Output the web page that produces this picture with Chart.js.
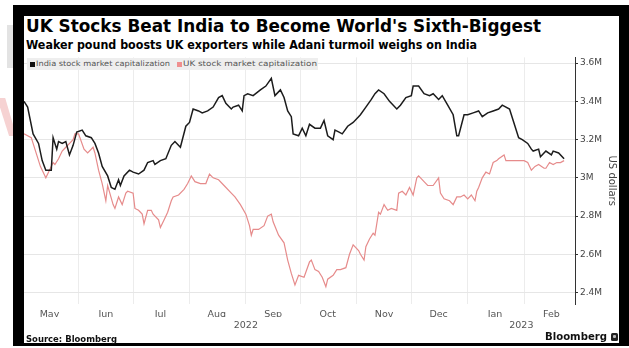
<!DOCTYPE html>
<html>
<head>
<meta charset="utf-8">
<script src="https://cdn.jsdelivr.net/npm/chart.js@4.4.1/dist/chart.umd.min.js"></script>
<style>
  html, body { margin: 0; padding: 0; background: #fff; }
  body { width: 629px; height: 348px; position: relative; overflow: hidden; font-family: 'DejaVu Sans', sans-serif; }
  .abs { position: absolute; white-space: nowrap; }
  #frame { left: 13px; top: 5px; width: 616px; height: 341px; background: #000; }
  #panel { left: 24px; top: 16px; width: 595px; height: 327px; background: #fff; }
  #ghost { left: 7px; top: 25px; width: 6px; height: 43px; background: #e3e3e3; }
  #ghostRed { left: 0px; top: 98px; width: 13px; height: 38px; background: #f6d2d2;
              clip-path: polygon(0 0, 40% 0, 100% 70%, 100% 100%, 70% 100%, 0 25%); }
  #title { left: 26px; top: 15px; font-weight: bold; font-size: 18px; line-height: 22px; color: #000; transform-origin: 0 0; }
  #subtitle { left: 26px; top: 37px; font-weight: bold; font-size: 13px; line-height: 16px; color: #000; transform-origin: 0 0; }
  #legend { left: 27px; top: 58px; width: 291px; height: 12px; background: #eeeeee; }
  .sw { position: absolute; top: 4px; width: 5px; height: 5px; }
  .lt { position: absolute; top: 1px; font-size: 7.5px; line-height: 10px; color: #555; transform-origin: 0 0; }
  #source { left: 26px; top: 334px; font-weight: bold; font-size: 8.5px; line-height: 11px; color: #111; transform-origin: 0 0; }
  #brand { left: 545px; top: 330px; font-weight: bold; font-size: 11px; line-height: 14px; color: #111; transform-origin: 0 0; }
  #logo { left: 611px; top: 333px; width: 7px; height: 8px; background: #222; border-radius: 1.5px; }
  #logo::after { content: ''; position: absolute; left: 2px; top: 2px; width: 3px; height: 3px; background: #bbb; border-radius: 1px; }
  #c { left: 24px; top: 50px; }
</style>
</head>
<body>
<div id="ghost" class="abs"></div>
<div id="ghostRed" class="abs"></div>
<div id="frame" class="abs"></div>
<div id="panel" class="abs"></div>
<div id="title" class="abs">UK Stocks Beat India to Become World's Sixth-Biggest</div>
<div id="subtitle" class="abs">Weaker pound boosts UK exporters while Adani turmoil weighs on India</div>
<canvas id="c" class="abs" width="595" height="293"></canvas>
<div id="legend" class="abs">
  <div class="sw" style="left:3px;background:#111"></div>
  <div id="lt1" class="lt" style="left:9px">India stock market capitalization</div>
  <div class="sw" style="left:150px;background:#ef8f8f"></div>
  <div id="lt2" class="lt" style="left:156px">UK stock market capitalization</div>
</div>
<div id="source" class="abs">Source: Bloomberg</div>
<div id="brand" class="abs">Bloomberg</div>
<div id="logo" class="abs"></div>

<script>
// India total market capitalization (US$, shown with an "M" suffix)
const indiaDates = [
  '2022-05-02','2022-05-04','2022-05-07','2022-05-10','2022-05-12','2022-05-14','2022-05-17','2022-05-18',
  '2022-05-20','2022-05-21','2022-05-23','2022-05-25','2022-05-27','2022-05-29','2022-05-31','2022-06-03',
  '2022-06-05','2022-06-08','2022-06-10','2022-06-12','2022-06-14','2022-06-17','2022-06-19','2022-06-21',
  '2022-06-23','2022-06-24','2022-06-26','2022-06-29','2022-07-01','2022-07-04','2022-07-07','2022-07-09',
  '2022-07-12','2022-07-13','2022-07-16','2022-07-19','2022-07-22','2022-07-24','2022-07-27','2022-07-30',
  '2022-08-01','2022-08-03','2022-08-06','2022-08-08','2022-08-11','2022-08-14','2022-08-17','2022-08-19',
  '2022-08-21','2022-08-24','2022-08-25','2022-08-28','2022-08-30','2022-08-31','2022-09-02','2022-09-05',
  '2022-09-09','2022-09-12','2022-09-15','2022-09-17','2022-09-20','2022-09-22','2022-09-24','2022-09-26',
  '2022-09-27','2022-09-30','2022-10-02','2022-10-04','2022-10-06','2022-10-09','2022-10-12','2022-10-14',
  '2022-10-16','2022-10-19','2022-10-20','2022-10-22','2022-10-24','2022-10-27','2022-10-30','2022-11-02',
  '2022-11-03','2022-11-06','2022-11-09','2022-11-11','2022-11-13','2022-11-16','2022-11-19','2022-11-23',
  '2022-11-25','2022-11-28','2022-12-01','2022-12-02','2022-12-05','2022-12-08','2022-12-11','2022-12-13',
  '2022-12-16','2022-12-18','2022-12-21','2022-12-24','2022-12-26','2022-12-27','2022-12-30','2023-01-01',
  '2023-01-04','2023-01-07','2023-01-09','2023-01-12','2023-01-15','2023-01-18','2023-01-20','2023-01-24',
  '2023-01-26','2023-01-29','2023-01-31','2023-02-03','2023-02-05','2023-02-06','2023-02-09','2023-02-10',
  '2023-02-13','2023-02-16','2023-02-17','2023-02-20','2023-02-23'
];
const indiaValues = [
  3.40,3.37,3.23,3.18,3.09,3.04,3.04,3.21,
  3.15,3.19,3.18,3.19,3.12,3.17,3.24,3.25,
  3.22,3.21,3.18,3.13,3.06,3.01,2.95,2.94,
  2.99,2.96,3.01,3.04,3.03,3.02,3.04,3.08,
  3.09,3.07,3.09,3.10,3.17,3.19,3.16,3.27,
  3.29,3.36,3.35,3.34,3.35,3.37,3.42,3.43,
  3.39,3.36,3.37,3.38,3.35,3.43,3.44,3.43,
  3.46,3.48,3.52,3.43,3.46,3.42,3.35,3.32,
  3.23,3.22,3.26,3.22,3.28,3.26,3.26,3.30,
  3.22,3.20,3.25,3.24,3.23,3.27,3.29,3.32,
  3.33,3.37,3.41,3.44,3.46,3.44,3.40,3.36,
  3.38,3.42,3.43,3.48,3.48,3.44,3.43,3.44,
  3.41,3.43,3.38,3.33,3.22,3.22,3.33,3.33,
  3.34,3.35,3.32,3.34,3.35,3.36,3.38,3.36,
  3.30,3.21,3.20,3.18,3.15,3.14,3.15,3.11,
  3.14,3.12,3.14,3.13,3.10
];

// UK total market capitalization
const ukDates = [
  '2022-05-02','2022-05-06','2022-05-07','2022-05-09','2022-05-11','2022-05-13','2022-05-14','2022-05-16',
  '2022-05-18','2022-05-19','2022-05-21','2022-05-23','2022-05-25','2022-05-26','2022-05-29','2022-05-30',
  '2022-06-01','2022-06-04','2022-06-06','2022-06-09','2022-06-10','2022-06-12','2022-06-14','2022-06-16',
  '2022-06-17','2022-06-20','2022-06-21','2022-06-23','2022-06-25','2022-06-27','2022-06-28','2022-07-01',
  '2022-07-02','2022-07-04','2022-07-06','2022-07-07','2022-07-09','2022-07-11','2022-07-12','2022-07-15',
  '2022-07-16','2022-07-18','2022-07-20','2022-07-22','2022-07-23','2022-07-26','2022-07-29','2022-07-31',
  '2022-08-02','2022-08-04','2022-08-07','2022-08-10','2022-08-12','2022-08-14','2022-08-17','2022-08-20',
  '2022-08-24','2022-08-26','2022-08-29','2022-09-01','2022-09-03','2022-09-04','2022-09-05','2022-09-08',
  '2022-09-11','2022-09-13','2022-09-15','2022-09-16','2022-09-19','2022-09-22','2022-09-24','2022-09-26',
  '2022-09-28','2022-09-30','2022-10-03','2022-10-06','2022-10-07','2022-10-09','2022-10-11','2022-10-13',
  '2022-10-15','2022-10-16','2022-10-19','2022-10-21','2022-10-23','2022-10-26','2022-10-28','2022-10-30',
  '2022-11-02','2022-11-03','2022-11-05','2022-11-06','2022-11-08','2022-11-10','2022-11-11','2022-11-13',
  '2022-11-14','2022-11-16','2022-11-18','2022-11-20','2022-11-23','2022-11-24','2022-11-26','2022-11-28',
  '2022-11-30','2022-12-02','2022-12-04','2022-12-05','2022-12-08','2022-12-10','2022-12-13','2022-12-16',
  '2022-12-17','2022-12-19','2022-12-22','2022-12-24','2022-12-26','2022-12-28','2022-12-30','2023-01-01',
  '2023-01-03','2023-01-05','2023-01-06','2023-01-07','2023-01-09','2023-01-11','2023-01-13','2023-01-15',
  '2023-01-17','2023-01-18','2023-01-21','2023-01-22','2023-01-24','2023-01-27','2023-01-29','2023-02-01',
  '2023-02-03','2023-02-05','2023-02-07','2023-02-09','2023-02-12','2023-02-13','2023-02-15','2023-02-17',
  '2023-02-19','2023-02-21','2023-02-23'
];
const ukValues = [
  3.23,3.21,3.18,3.12,3.06,3.02,3.00,3.04,
  3.08,3.07,3.10,3.14,3.16,3.17,3.20,3.23,
  3.23,3.15,3.13,3.16,3.13,3.04,2.97,2.88,
  2.96,2.86,2.84,2.90,2.86,2.92,2.93,2.92,
  2.84,2.83,2.81,2.76,2.83,2.83,2.81,2.78,
  2.74,2.78,2.82,2.88,2.90,2.91,2.94,2.97,
  3.01,2.98,2.97,2.97,3.02,3.00,2.99,2.96,
  2.92,2.90,2.86,2.81,2.75,2.70,2.73,2.73,
  2.75,2.80,2.81,2.77,2.70,2.66,2.57,2.50,
  2.44,2.49,2.48,2.56,2.57,2.52,2.51,2.48,
  2.43,2.47,2.49,2.52,2.52,2.53,2.60,2.65,
  2.62,2.60,2.57,2.64,2.68,2.71,2.70,2.82,
  2.81,2.86,2.83,2.84,2.83,2.92,2.93,2.91,
  2.95,2.91,3.00,3.01,2.98,2.96,2.96,3.00,
  2.92,2.89,2.88,2.86,2.90,2.90,2.91,2.89,
  2.91,2.88,2.93,2.95,3.00,3.03,3.02,3.08,
  3.09,3.10,3.12,3.09,3.09,3.09,3.09,3.09,
  3.08,3.04,3.06,3.07,3.05,3.05,3.08,3.07,
  3.08,3.08,3.09
];

// Axis labels
const monthLabels = ['May','Jun','Jul','Aug','Sep','Oct','Nov','Dec','Jan','Feb'];
const monthMids   = ['2022-05-16','2022-06-16','2022-07-16','2022-08-16','2022-09-16','2022-10-16',
                     '2022-11-16','2022-12-16','2023-01-16','2023-02-16'];
const monthStarts = ['2022-06-01','2022-07-01','2022-08-01','2022-09-01','2022-10-01','2022-11-01',
                     '2022-12-01','2023-01-01','2023-02-01'];
const yearLabels  = ['2022','2023'];
const yearStarts  = ['2022-05-02','2023-01-01'];
const rangeStart  = '2022-05-02';
const rangeEnd    = '2023-03-01';
const yTicks      = [2.4, 2.6, 2.8, 3.0, 3.2, 3.4, 3.6];

// Day number relative to 1 May 2022
const EPOCH = Date.UTC(2022, 4, 1);
function dayNum(s) {
  const [y, m, d] = s.split('-').map(Number);
  return (Date.UTC(y, m - 1, d) - EPOCH) / 86400000;
}
const toPoints = (dates, vals) => dates.map((d, i) => ({ x: dayNum(d), y: vals[i] }));

const xMin = dayNum(rangeStart);
const xMax = dayNum(rangeEnd);
// each year label sits in the middle of the part of that year that is shown
const yearCenters = yearStarts.map((s, i) => {
  const a = Math.max(dayNum(s), xMin);
  const b = i + 1 < yearStarts.length ? dayNum(yearStarts[i + 1]) : xMax;
  return (a + b) / 2;
});

const tickFont = { family: "'DejaVu Sans', sans-serif", size: 9 };

new Chart(document.getElementById('c'), {
  type: 'line',
  data: {
    datasets: [
      { label: 'India stock market capitalization', data: toPoints(indiaDates, indiaValues),
        borderColor: '#1c1c1c', borderWidth: 1.5, pointRadius: 0, tension: 0, xAxisID: 'x', yAxisID: 'y' },
      { label: 'UK stock market capitalization', data: toPoints(ukDates, ukValues),
        borderColor: '#e68b8b', borderWidth: 1.2, pointRadius: 0, tension: 0, xAxisID: 'x', yAxisID: 'y' }
    ]
  },
  options: {
    responsive: false,
    animation: false,
    devicePixelRatio: 1,
    layout: { padding: { top: 5, left: 0, right: 0, bottom: 0 } },
    plugins: { legend: { display: false }, tooltip: { enabled: false } },
    scales: {
      x: {
        type: 'linear', position: 'bottom', min: xMin, max: xMax, weight: 0,
        afterBuildTicks: s => { s.ticks = monthStarts.map(d => ({ value: dayNum(d) })); },
        afterFit: s => { s.height = 0; },
        ticks: { display: false },
        grid: { color: '#ececec', lineWidth: 1, drawTicks: false },
        border: { display: false }
      },
      xm: {
        type: 'linear', position: 'bottom', min: xMin, max: xMax, weight: 1,
        afterBuildTicks: s => { s.ticks = monthMids.map(d => ({ value: dayNum(d) })); },
        afterFit: s => { s.height = 13; },
        ticks: { callback: (v, i) => monthLabels[i], autoSkip: false, maxRotation: 0,
                 font: { ...tickFont, size: 9.5 }, color: '#555', padding: 5 },
        grid: { display: false, drawTicks: false },
        border: { display: false }
      },
      xy: {
        type: 'linear', position: 'bottom', min: xMin, max: xMax, weight: 2,
        afterBuildTicks: s => { s.ticks = yearCenters.map(v => ({ value: v })); },
        afterFit: s => { s.height = 26; },
        ticks: { callback: (v, i) => yearLabels[i], autoSkip: false, maxRotation: 0,
                 font: { ...tickFont, size: 9.5 }, color: '#555', padding: 3 },
        grid: { display: false, drawTicks: false },
        border: { display: false }
      },
      y: {
        type: 'linear', position: 'right', min: 2.34, max: 3.63,
        afterBuildTicks: s => { s.ticks = yTicks.map(v => ({ value: v })); },
        afterFit: s => { s.width = 44; },
        ticks: { callback: v => v + 'M', font: tickFont, color: '#444', padding: 2 },
        grid: { color: '#e6e6e6', tickColor: '#333', tickLength: 3 },
        border: { display: true, color: '#333', width: 1 },
        title: { display: true, text: 'US dollars', color: '#444',
                 font: { family: "'DejaVu Sans', sans-serif", size: 10 }, padding: { top: 1, bottom: 0 } }
      }
    }
  }
});

// stretch header/footer texts to their set widths
function fitWidth(id, w) {
  const el = document.getElementById(id);
  const cur = el.getBoundingClientRect().width;
  if (cur > 0) el.style.transform = 'scaleX(' + (w / cur) + ')';
}
fitWidth('title', 515);
fitWidth('subtitle', 451);
fitWidth('lt1', 134);
fitWidth('lt2', 134);
fitWidth('source', 91);
fitWidth('brand', 62);
</script>
</body>
</html>
